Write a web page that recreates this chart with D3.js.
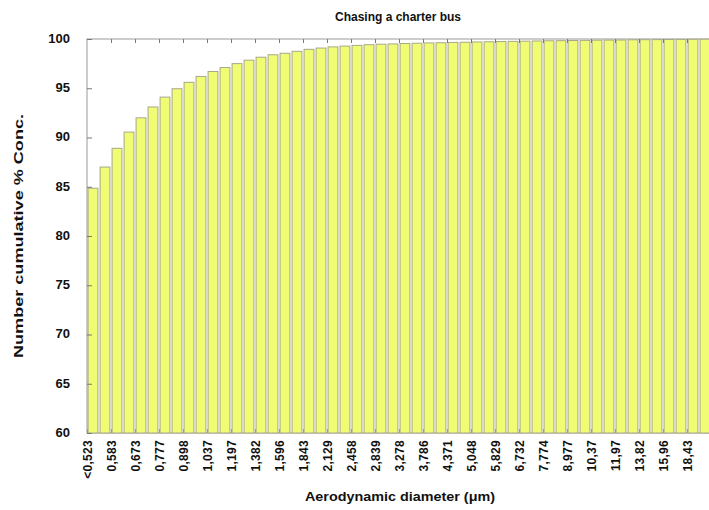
<!DOCTYPE html>
<html lang="en">
<head>
<meta charset="UTF-8">
<title>Chasing a charter bus</title>
<style>
  body { margin: 0; background: #fff; }
  svg { font-family: 'Liberation Sans', Arial, sans-serif; font-weight: bold; }
</style>
</head>
<body>
<div id="chart"></div>
<script src="https://d3js.org/d3.v7.min.js"></script>
<script>
// APS channel diameters (um); every other one is labelled
const diameters = ["<0,523", "0,542", "0,583", "0,626", "0,673", "0,723", "0,777", "0,835",
  "0,898", "0,965", "1,037", "1,114", "1,197", "1,286", "1,382", "1,486", "1,596", "1,715",
  "1,843", "1,981", "2,129", "2,288", "2,458", "2,642", "2,839", "3,051", "3,278", "3,523",
  "3,786", "4,068", "4,371", "4,698", "5,048", "5,425", "5,829", "6,264", "6,732", "7,234",
  "7,774", "8,354", "8,977", "9,647", "10,37", "11,14", "11,97", "12,86", "13,82", "14,86",
  "15,96", "17,15", "18,43", "19,81"]

// cumulative number concentration (%)
const cumPercent = [84.85, 87.0, 88.9, 90.55, 92.0, 93.1, 94.1, 94.95, 95.6, 96.2,
  96.7, 97.1, 97.5, 97.85, 98.15, 98.4, 98.55, 98.75, 98.95, 99.08,
  99.2, 99.28, 99.35, 99.42, 99.47, 99.5, 99.54, 99.57, 99.6, 99.62,
  99.65, 99.67, 99.7, 99.72, 99.74, 99.76, 99.78, 99.8, 99.82, 99.83,
  99.85, 99.86, 99.88, 99.89, 99.9, 99.92, 99.93, 99.94, 99.95, 99.96,
  99.97, 99.98]

const yTicks = [60, 65, 70, 75, 80, 85, 90, 95, 100]

const W = 709, H = 510
const m = {left: 87, right: 711, top: 39, bottom: 433}

const svg = d3.select('#chart').append('svg')
  .attr('width', W)
  .attr('height', H)

const x = d3.scaleBand()
  .domain(d3.range(diameters.length))
  .range([m.left, m.right])
  .paddingInner(0.18)
  .paddingOuter(0.09)

// channel edges, used for ticks and labels
const edge = d3.scaleLinear()
  .domain([0, diameters.length])
  .range([m.left, m.right])

const y = d3.scaleLinear()
  .domain([60, 100])
  .range([m.bottom, m.top])

// plot frame
svg.append('rect')
  .attr('x', m.left).attr('y', m.top)
  .attr('width', m.right - m.left).attr('height', m.bottom - m.top)
  .attr('fill', 'none')
  .attr('stroke', '#999')

// bars
svg.append('g')
  .selectAll('rect')
  .data(cumPercent)
  .join('rect')
  .attr('x', (d, i) => x(i))
  .attr('y', d => y(d))
  .attr('width', x.bandwidth())
  .attr('height', d => y(60) - y(d))
  .attr('fill', '#f0fc74')
  .attr('stroke', '#a8a888')
  .attr('stroke-width', 1)

const labelIdx = d3.range(0, diameters.length, 2)

// bottom axis, ticks inside
const xAxis = svg.append('g')
  .attr('transform', `translate(0,${m.bottom})`)
  .call(d3.axisBottom(edge)
    .tickValues(labelIdx)
    .tickFormat(i => diameters[i])
    .tickSize(-4)
    .tickSizeOuter(0))
xAxis.select('.domain').remove()
xAxis.selectAll('line').attr('stroke', '#999')
xAxis.selectAll('text')
  .attr('transform', 'rotate(-90)')
  .attr('x', -7)
  .attr('y', 0)
  .attr('dy', '0.35em')
  .style('text-anchor', 'end')
  .style('font-size', '12px')
  .style('font-weight', 'bold')
  .style('letter-spacing', '0.3px')
  .attr('fill', '#111')

// top axis, ticks only
const topAxis = svg.append('g')
  .attr('transform', `translate(0,${m.top})`)
  .call(d3.axisTop(edge)
    .tickValues(labelIdx.filter(i => i > 0))
    .tickFormat('')
    .tickSize(-4)
    .tickSizeOuter(0))
topAxis.select('.domain').remove()
topAxis.selectAll('line').attr('stroke', '#777')

// left axis
const yAxis = svg.append('g')
  .attr('transform', `translate(${m.left},0)`)
  .call(d3.axisLeft(y)
    .tickValues(yTicks)
    .tickSize(-5)
    .tickSizeOuter(0)
    .tickPadding(17))
yAxis.select('.domain').remove()
yAxis.selectAll('line').attr('stroke', '#777')
yAxis.selectAll('text')
  .attr('dy', '0.25em')
  .style('font-size', '13px')
  .style('font-weight', 'bold')
  .attr('fill', '#111')

// titles
svg.append('text')
  .attr('x', 398).attr('y', 21)
  .attr('text-anchor', 'middle')
  .style('font-size', '12px')
  .attr('fill', '#111')
  .text('Chasing a charter bus')

svg.append('text')
  .attr('x', 400).attr('y', 501)
  .attr('text-anchor', 'middle')
  .attr('textLength', 190)
  .attr('lengthAdjust', 'spacingAndGlyphs')
  .style('font-size', '13px')
  .attr('fill', '#111')
  .text('Aerodynamic diameter (μm)')

svg.append('text')
  .attr('transform', `translate(23,${(m.top + m.bottom) / 2}) rotate(-90)`)
  .attr('text-anchor', 'middle')
  .attr('textLength', 244)
  .attr('lengthAdjust', 'spacingAndGlyphs')
  .style('font-size', '13.5px')
  .attr('fill', '#111')
  .text('Number cumulative % Conc.')
</script>
</body>
</html>
